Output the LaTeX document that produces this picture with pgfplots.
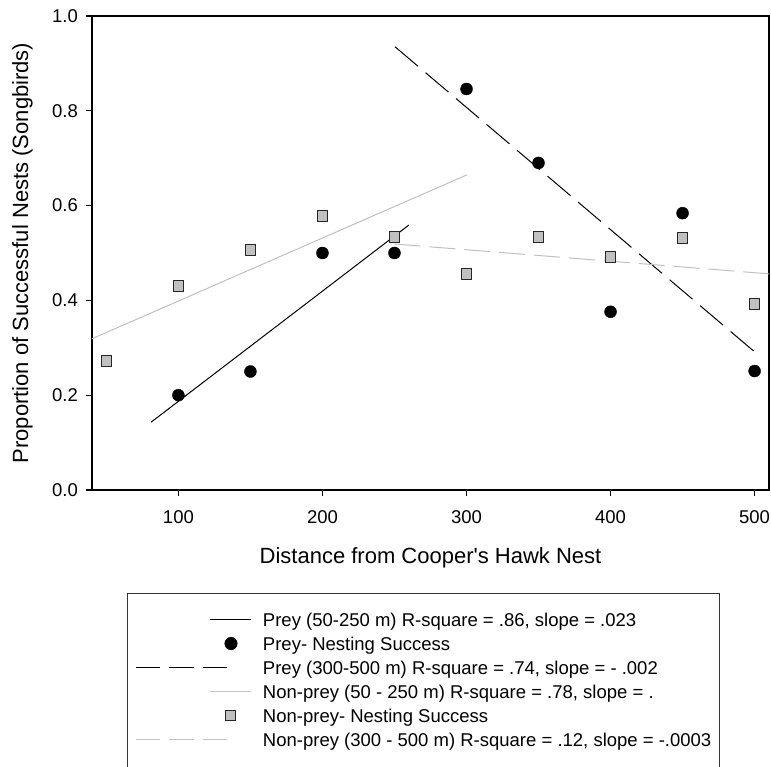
\documentclass[border=0pt]{standalone}
\usepackage{fontspec}
\setmainfont{Liberation Sans}
\usepackage{pgfplots}
\pgfplotsset{compat=1.18}
\usetikzlibrary{calc}

\definecolor{ltgray}{RGB}{192,192,192}

\begin{document}
\begin{tikzpicture}
\begin{axis}[
    scale only axis,
    width=677pt, height=474pt,
    xmin=40, xmax=510,
    ymin=0, ymax=1,
    xtick={100,200,300,400,500},
    ytick={0,0.2,0.4,0.6,0.8,1.0},
    yticklabel style={/pgf/number format/fixed, /pgf/number format/fixed zerofill, /pgf/number format/precision=1},
    /pgf/number format/assume math mode=true,
    tick align=outside,
    tick pos=left,
    major tick length=6pt,
    axis line style={line width=1.3pt},
    every tick/.style={line width=1.1pt, black},
    tick label style={font=\fontsize{18.5}{21}\selectfont, inner sep=0pt},
    xticklabel style={yshift=-14pt},
    yticklabel style={xshift=-8pt},
    label style={font=\fontsize{22}{26}\selectfont},
    xlabel={Distance from Cooper\textquotesingle s Hawk Nest},
    ylabel={Proportion of Successful Nests (Songbirds)},
    xlabel style={at={(axis description cs:0.5,-0.156)}, anchor=base},
    ylabel style={at={(axis description cs:-0.0945,0.5)}, anchor=base},
    legend cell align=left,
    legend style={
        at={(axis description cs:0.0517,-0.2173)}, anchor=north west,
        draw=black!80, line width=1pt,
        inner xsep=8pt, inner ysep=17pt,
        font=\fontsize{18.5}{22}\selectfont,
        nodes={inner sep=0pt, text height=16pt, text depth=8pt},
        row sep=0pt,
    },
]

% Prey (50-250 m) fit
\addplot[black, line width=1pt,
    legend image code/.code={
        \path[draw=none, fill=none] (0pt,-6pt) rectangle (127pt,6pt);
        \draw[black, solid, line width=1pt] (74pt,3pt) -- (115pt,3pt);}]
    coordinates {(81,0.143) (260,0.559)};
\addlegendentry{Prey (50-250 m) R-square = .86, slope = .023}

% Prey nesting success
\addplot[only marks, mark=*, mark size=6pt, black,
    legend image code/.code={
        \path[draw=none, fill=none] (0pt,-6pt) rectangle (127pt,6pt);
        \fill[black] (95pt,3pt) circle (6pt);}]
    coordinates {
    (100,0.200) (150,0.250) (200,0.500) (250,0.500) (300,0.846)
    (350,0.690) (400,0.376) (450,0.584) (500,0.251)
    };
\addlegendentry{Prey- Nesting Success}

% Prey (300-500 m) fit
\addplot[black, line width=1pt, dash pattern=on 30pt off 10pt,
    legend image code/.code={
        \path[draw=none, fill=none] (0pt,-6pt) rectangle (127pt,6pt);
        \draw[black, line width=1pt, dash pattern=on 24.5pt off 9pt] (0pt,3pt) -- (92pt,3pt);}]
    coordinates {(250.4,0.935) (502.5,0.285)};
\addlegendentry{Prey (300-500 m) R-square = .74, slope = - .002}

% Non-prey (50-250 m) fit
\addplot[ltgray, line width=1pt,
    legend image code/.code={
        \path[draw=none, fill=none] (0pt,-6pt) rectangle (127pt,6pt);
        \draw[ltgray, solid, line width=1pt] (74pt,3pt) -- (115pt,3pt);}]
    coordinates {(40,0.319) (300.4,0.665)};
\addlegendentry{Non-prey (50 - 250 m) R-square = .78, slope = .}

% Non-prey nesting success
\addplot[only marks, mark=square*, mark size=5.3pt,
    mark options={fill=ltgray, draw=black!85, line width=1pt},
    legend image code/.code={
        \path[draw=none, fill=none] (0pt,-6pt) rectangle (127pt,6pt);
        \draw[fill=ltgray, draw=black!85, solid, line width=1pt] (90pt,-1.8pt) rectangle (100pt,8.2pt);}]
    coordinates {
    (50,0.272) (100,0.430) (150,0.506) (200,0.578) (250,0.534)
    (300,0.456) (350,0.534) (400,0.492) (450,0.532) (500,0.392)
    };
\addlegendentry{Non-prey- Nesting Success}

% Non-prey (300-500 m) fit
\addplot[ltgray, line width=1pt, dash pattern=on 26pt off 9pt,
    legend image code/.code={
        \path[draw=none, fill=none] (0pt,-6pt) rectangle (127pt,6pt);
        \draw[ltgray, line width=1pt, dash pattern=on 24.5pt off 9pt] (0pt,3pt) -- (92pt,3pt);}]
    coordinates {(250,0.519) (510,0.456)};
\addlegendentry{Non-prey (300 - 500 m) R-square = .12, slope = -.0003}

\addlegendimage{empty legend}
\addlegendentry{}

\coordinate (O) at (rel axis cs:0,0);
\end{axis}
\pgfresetboundingbox
\path[use as bounding box] ($(O)+(-92pt,-277pt)$) rectangle ($(O)+(679pt,490pt)$);
\end{tikzpicture}
\end{document}
